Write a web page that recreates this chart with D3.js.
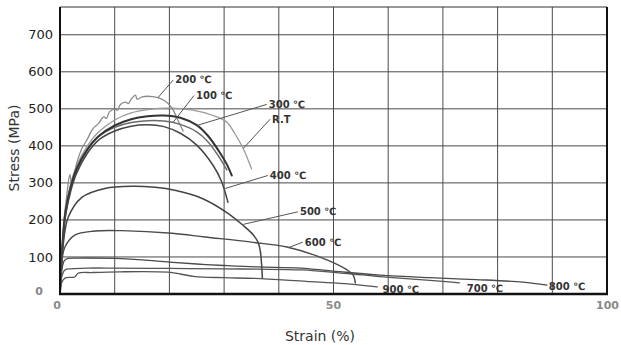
<!DOCTYPE html>
<html>
<head>
<meta charset="utf-8">
<script src="https://cdn.jsdelivr.net/npm/d3@7/dist/d3.min.js"></script>
<style>
	body { margin: 0; background: #fff; }
	svg { display: block; font-family: "DejaVu Sans", sans-serif; }
	.grid line { stroke: #4a4a4a; stroke-width: 1; }
	.curve { fill: none; stroke-linejoin: round; stroke-linecap: round; }
	.leader { stroke: #555; stroke-width: 1; }
	.tempLabel { font-size: 10px; font-weight: bold; fill: #333; }
</style>
</head>
<body>
<svg id="chart" width="621" height="345"></svg>
<script>
// strain (%) / stress (MPa) pairs
const rtCurve = [[0,0],[0.5,150],[1,230],[2,300],[3,345],[5,400],[7,437],[10,470],[13,489],[16,498],[20,502],[24,497],[28,482],[30.5,464],[32,432],[33.5,393],[34.3,365],[35,338]];
const c100 = [[0,0],[0.5,145],[1,225],[2,295],[3,340],[5,392],[7,425],[10,450],[13,463],[16,468],[19,467],[22,458],[25,438],[27,412],[29,372],[30.5,335]];
const c200 = [[0,0],[0.5,160],[1.2,262],[1.8,322],[2.1,300],[2.6,322],[3,350],[4,393],[5,418],[6,446],[7,460],[8,478],[8.5,474],[9,491],[10,499],[10.5,496],[11,511],[12,518],[12.5,514],[13,526],[13.8,537],[14.1,526],[15,532],[16,534],[17.9,530],[19.2,521],[20.4,504],[21.6,468],[22.5,440]];
const c300 = [[0,0],[0.5,140],[1,220],[2,290],[3,335],[5,390],[7,425],[10,455],[13,472],[16,480],[19,482],[22,476],[25,456],[27,428],[29,387],[30.5,350],[31.4,320]];
const c400 = [[0,0],[0.5,135],[1,210],[2,280],[3,325],[5,380],[7,415],[10,440],[13,453],[16,457],[19,452],[22,434],[25,402],[28,347],[29.5,305],[30.7,248]];
const c500 = [[0,0],[0.5,120],[1.5,207],[4,261],[8.2,285],[13.2,291],[17.4,288],[21,280],[26,258],[30.7,218],[33.5,185],[35.3,160],[36.2,140],[36.6,118],[37,43]];
const c600 = [[0,0],[0.4,95],[0.9,127],[2.7,159],[6.4,170],[11.3,171],[20.5,164],[26.5,154],[35,140],[41.5,127],[48,97],[52.5,65],[53.6,51],[54,30]];
const c700 = [[0,0],[0.3,45],[0.9,65],[2,68],[5,70],[10,70],[20,69],[30,68],[36,67],[44,65],[52,56],[58.5,47],[65.8,39],[70,34],[73,30]];
const c800 = [[0,0],[0.3,60],[0.8,90],[1.5,96],[3,97],[10,96],[15,92],[20,86],[25,81],[30,77],[36,73],[44,70],[50,62],[58.5,51],[67.6,44],[76,39],[84.6,32],[89,24]];
const c900 = [[0,0],[0.3,30],[0.9,43],[2.7,46],[3.3,56],[6,58],[11,60],[19.7,59],[22,54],[24.7,47],[30,44],[35.6,42],[45,34],[52,28],[58,19]];

const yTicks = [100, 200, 300, 400, 500, 600, 700];
const xTicks = [0, 50, 100];
const xGrid = [10, 20, 30, 40, 50, 60, 70, 80, 90];

// label text, leader start, leader end / text anchor (data units)
const labels = [
	{text: '200 \u2103', from: [17.9, 530], to: [20.7, 578]},
	{text: '100 \u2103', from: [20.7, 464], to: [24.5, 536]},
	{text: '300 \u2103', from: [25.0, 455], to: [37.8, 512]},
	{text: 'R.T', from: [33.5, 393], to: [38.4, 472]},
	{text: '400 \u2103', from: [30.2, 285], to: [38.0, 320]},
	{text: '500 \u2103', from: [33.5, 188], to: [43.5, 222]},
	{text: '600 \u2103', from: [41.7, 125], to: [44.4, 140]},
	{text: '900 \u2103', from: null, to: [58.6, 13]},
	{text: '700 \u2103', from: null, to: [74.0, 16]},
	{text: '800 \u2103', from: null, to: [89.0, 19]}
];

const series = [
	{data: rtCurve, color: '#9a9a9a', width: 1.3},
	{data: c200, color: '#8a8a8a', width: 1.3},
	{data: c100, color: '#6a6a6a', width: 1.4},
	{data: c300, color: '#333', width: 2},
	{data: c400, color: '#444', width: 1.5},
	{data: c500, color: '#444', width: 1.5},
	{data: c600, color: '#4a4a4a', width: 1.4},
	{data: c700, color: '#555', width: 1.3},
	{data: c800, color: '#4a4a4a', width: 1.3},
	{data: c900, color: '#555', width: 1.3}
];

const margin = {top: 7, right: 14, bottom: 51, left: 60};
const width = 621, height = 345;
const svg = d3.select('#chart');

const x = d3.scaleLinear().domain([0, 100]).range([margin.left, width - margin.right]);
const y = d3.scaleLinear().domain([0, 775]).range([height - margin.bottom, margin.top]);

// grid
let grid = svg.append('g').attr('class', 'grid');
grid.selectAll('.v').data(xGrid).enter().append('line')
	.attr('x1', d => x(d)).attr('x2', d => x(d))
	.attr('y1', y(0)).attr('y2', y(775));
grid.selectAll('.h').data(yTicks).enter().append('line')
	.attr('x1', x(0)).attr('x2', x(100))
	.attr('y1', d => y(d)).attr('y2', d => y(d));

// curves
let line = d3.line()
	.x(d => x(d[0]))
	.y(d => y(d[1]))
	.curve(d3.curveCatmullRom.alpha(0.5));

svg.selectAll('.curve').data(series).enter().append('path')
	.attr('class', 'curve')
	.attr('d', d => line(d.data))
	.attr('stroke', d => d.color)
	.attr('stroke-width', d => d.width);

// frame
svg.append('line').attr('x1', x(0)).attr('x2', x(100)).attr('y1', y(775)).attr('y2', y(775))
	.attr('stroke', '#333').attr('stroke-width', 1.2);
svg.append('line').attr('x1', x(0)).attr('x2', x(0)).attr('y1', y(775)).attr('y2', y(0))
	.attr('stroke', '#111').attr('stroke-width', 2);
svg.append('line').attr('x1', x(100)).attr('x2', x(100)).attr('y1', y(775)).attr('y2', y(0))
	.attr('stroke', '#111').attr('stroke-width', 2);
svg.append('line').attr('x1', x(0) - 1).attr('x2', x(100) + 1).attr('y1', y(0)).attr('y2', y(0))
	.attr('stroke', '#111').attr('stroke-width', 2.5);

// leaders + temperature labels
let lab = svg.selectAll('.lab').data(labels).enter().append('g');
lab.filter(d => d.from).append('line')
	.attr('class', 'leader')
	.attr('x1', d => x(d.from[0])).attr('y1', d => y(d.from[1]))
	.attr('x2', d => x(d.to[0])).attr('y2', d => y(d.to[1]));
lab.append('text')
	.attr('class', 'tempLabel')
	.attr('x', d => x(d.to[0]) + 2)
	.attr('y', d => y(d.to[1]))
	.attr('dy', '0.35em')
	.text(d => d.text);

// y tick labels
svg.selectAll('.ytick').data(yTicks).enter().append('text')
	.attr('x', margin.left - 7)
	.attr('y', d => y(d))
	.attr('dy', '0.35em')
	.attr('text-anchor', 'end')
	.attr('font-size', 13)
	.attr('font-weight', 500)
	.attr('fill', '#222')
	.text(d => d);
svg.append('text')
	.attr('x', margin.left - 17)
	.attr('y', y(0))
	.attr('dy', '0.1em')
	.attr('text-anchor', 'end')
	.attr('font-size', 11)
	.attr('font-weight', 'bold')
	.attr('fill', '#888')
	.text('0');

// x tick labels
svg.selectAll('.xtick').data(xTicks).enter().append('text')
	.attr('x', d => d === 100 ? width - 2 : x(d) + (d === 0 ? -3 : 0))
	.attr('y', y(0) + 15)
	.attr('text-anchor', d => d === 100 ? 'end' : 'middle')
	.attr('font-size', 11)
	.attr('font-weight', 'bold')
	.attr('fill', '#8a8a8a')
	.text(d => d);

// axis titles
svg.append('text')
	.attr('transform', 'translate(19,' + 148 + ') rotate(-90)')
	.attr('text-anchor', 'middle')
	.attr('font-size', 14)
	.attr('fill', '#333')
	.text('Stress (MPa)');
svg.append('text')
	.attr('x', 320)
	.attr('y', 341)
	.attr('text-anchor', 'middle')
	.attr('font-size', 14)
	.attr('fill', '#333')
	.text('Strain (%)');
</script>
</body>
</html>
